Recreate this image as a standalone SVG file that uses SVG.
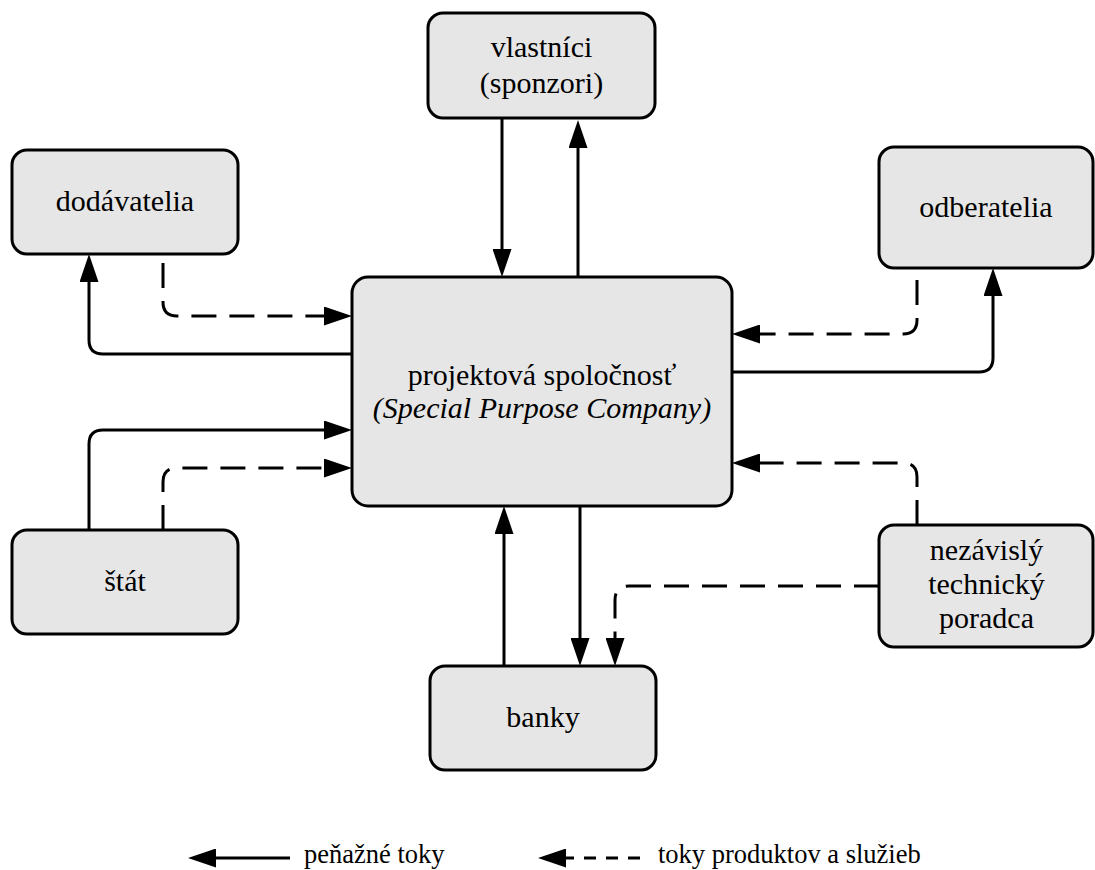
<svg xmlns="http://www.w3.org/2000/svg" width="1095" height="870" viewBox="0 0 1095 870" font-family="'Liberation Serif', 'DejaVu Serif', serif">
<style>
.node rect{fill:#e6e6e6;stroke:#000;stroke-width:3}
.lbl{font-size:30px;text-anchor:middle;fill:#000}
.leg{font-size:26.5px;fill:#000}
.c{fill:none;stroke:#000;stroke-width:3;marker-end:url(#ah)}
.d{stroke-dasharray:25 13}
.ld{stroke-dasharray:12 10}
</style>
<defs>
<marker id="ah" markerUnits="userSpaceOnUse" markerWidth="28" markerHeight="19" refX="18" refY="9.5" orient="auto">
<path d="M0,0 L28,9.5 L0,19 Z" fill="#000"/>
</marker>
</defs>
<rect width="1095" height="870" fill="#fff"/>
<g id="connectors">
<path class="c" d="M502,118 L502,267"/>
<path class="c" d="M578,277 L578,130"/>
<path class="c" d="M352,354 L103,354 Q89,354 89,340 L89,264"/>
<path class="c d" d="M163,263 L163,302 Q163,316 177,316 L342,316"/>
<path class="c d" d="M917,280 L917,320 Q917,334 903,334 L742,334"/>
<path class="c" d="M727,372 L979,372 Q993,372 993,358 L993,278"/>
<path class="c d" d="M917,525 L917,477 Q917,463 903,463 L742,463"/>
<path class="c" d="M89,530 L89,444 Q89,430 103,430 L342,430"/>
<path class="c d" d="M163,530 L163,482 Q163,468 177,468 L342,468"/>
<path class="c" d="M504,666 L504,516"/>
<path class="c" d="M580,506 L580,656"/>
<path class="c d" d="M879,586 L629,586 Q615,586 615,600 L615,656"/>
</g>
<g id="spc" class="node">
<rect x="352" y="277" width="380" height="229" rx="16"/>
<text class="lbl" x="542" y="385" font-family="'Liberation Serif', serif">projektová spoločnosť</text>
<text class="lbl" x="542" y="418" font-family="'Liberation Serif', serif" font-style="italic">(Special Purpose Company)</text>
</g>
<g id="vlastnici" class="node">
<rect x="428" y="13" width="227" height="105" rx="15"/>
<text class="lbl" x="541.5" y="57" font-family="'Liberation Serif', serif">vlastníci</text>
<text class="lbl" x="541.5" y="93" font-family="'Liberation Serif', serif">(sponzori)</text>
</g>
<g id="dodavatelia" class="node">
<rect x="12" y="150" width="226" height="104" rx="15"/>
<text class="lbl" x="125" y="211" font-family="'Liberation Serif', serif">dodávatelia</text>
</g>
<g id="odberatelia" class="node">
<rect x="879" y="147" width="214" height="121" rx="15"/>
<text class="lbl" x="986" y="217" font-family="'Liberation Serif', serif">odberatelia</text>
</g>
<g id="stat" class="node">
<rect x="12" y="530" width="226" height="104" rx="15"/>
<text class="lbl" x="125" y="591" font-family="'Liberation Serif', serif">štát</text>
</g>
<g id="banky" class="node">
<rect x="430" y="666" width="226" height="104" rx="15"/>
<text class="lbl" x="543" y="727" font-family="'Liberation Serif', serif">banky</text>
</g>
<g id="poradca" class="node">
<rect x="879" y="525" width="214" height="122" rx="15"/>
<text class="lbl" x="986.5" y="560" font-family="'Liberation Serif', serif">nezávislý</text>
<text class="lbl" x="986.5" y="594" font-family="'Liberation Serif', serif">technický</text>
<text class="lbl" x="986.5" y="628" font-family="'Liberation Serif', serif">poradca</text>
</g>
<g id="legend">
<path class="c" d="M290,858 L198,858"/>
<text class="leg" x="304" y="863" font-family="'Liberation Serif', serif">peňažné toky</text>
<path class="c ld" d="M640,858 L548,858"/>
<text class="leg" x="658" y="863" font-family="'Liberation Serif', serif">toky produktov a služieb</text>
</g>
</svg>
